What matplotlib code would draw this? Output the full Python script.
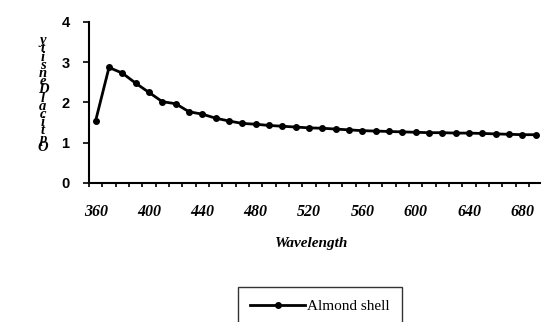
import matplotlib.pyplot as plt
import numpy as np

wavelength = [360, 370, 380, 390, 400, 410, 420, 430, 440, 450, 460, 470, 480, 490,
              500, 510, 520, 530, 540, 550, 560, 570, 580, 590, 600, 610, 620, 630,
              640, 650, 660, 670, 680, 690]
almond_od = [1.55, 2.87, 2.73, 2.48, 2.25, 2.02, 1.97, 1.77, 1.71, 1.61, 1.54, 1.48,
             1.46, 1.43, 1.41, 1.39, 1.37, 1.36, 1.34, 1.32, 1.30, 1.29, 1.28, 1.27,
             1.26, 1.25, 1.25, 1.24, 1.24, 1.23, 1.22, 1.21, 1.20, 1.20]
xtick_labels = [360, 400, 440, 480, 520, 560, 600, 640, 680]
ylabel_text = "OpticalDensity"

serif = "Liberation Serif"
sans = "Liberation Sans"

fig = plt.figure(figsize=(5.41, 3.22), dpi=100)
ax = fig.add_axes([0.1645, 0.4317, 0.8355, 0.5])

ax.plot(wavelength, almond_od, color="black", lw=2, marker="o", ms=4,
        label="Almond shell")

ax.set_xlim(355, 694)
ax.set_ylim(0, 4)
ax.set_yticks([0, 1, 2, 3, 4])
ax.set_xticks(xtick_labels)
ax.set_xticklabels([str(v) for v in xtick_labels], fontfamily=serif,
                   fontstyle="italic", fontweight="bold", fontsize=11.5)
ax.set_xticks(np.arange(355, 695, 10), minor=True)
ax.tick_params(axis="x", which="both", length=0, pad=15)
ax.tick_params(axis="x", which="minor", length=3, width=1.2, direction="out")
ax.tick_params(axis="y", length=4, width=1.2, direction="out", pad=10)
for lbl in ax.get_yticklabels():
    lbl.set_fontfamily(sans)
    lbl.set_fontweight("bold")
    lbl.set_fontsize(10.5)

for side in ["top", "right"]:
    ax.spines[side].set_visible(False)
for side in ["left", "bottom"]:
    ax.spines[side].set_linewidth(1.5)

# vertical stacked axis title, read bottom to top
fig.text(43 / 541, 1 - 94 / 322, "\n".join(reversed(ylabel_text)),
         ha="center", va="center", multialignment="center", linespacing=0.52,
         fontfamily=serif, fontstyle="italic", fontweight="bold", fontsize=10.5)

fig.text(312 / 541, 1 - 243 / 322, "Wavelength", ha="center", va="center",
         fontfamily=serif, fontstyle="italic", fontweight="bold", fontsize=11)

leg = fig.legend(loc="upper left", bbox_to_anchor=(238 / 541, 1 - 287 / 322),
                 frameon=True, fancybox=False, edgecolor="black",
                 prop={"family": serif, "size": 11}, handlelength=3.6,
                 borderpad=0.8, borderaxespad=0, handletextpad=0.1)
leg.get_frame().set_linewidth(1.0)
for h in leg.legend_handles:
    h.set_markersize(4)

fig.savefig("out.png", dpi=100)
